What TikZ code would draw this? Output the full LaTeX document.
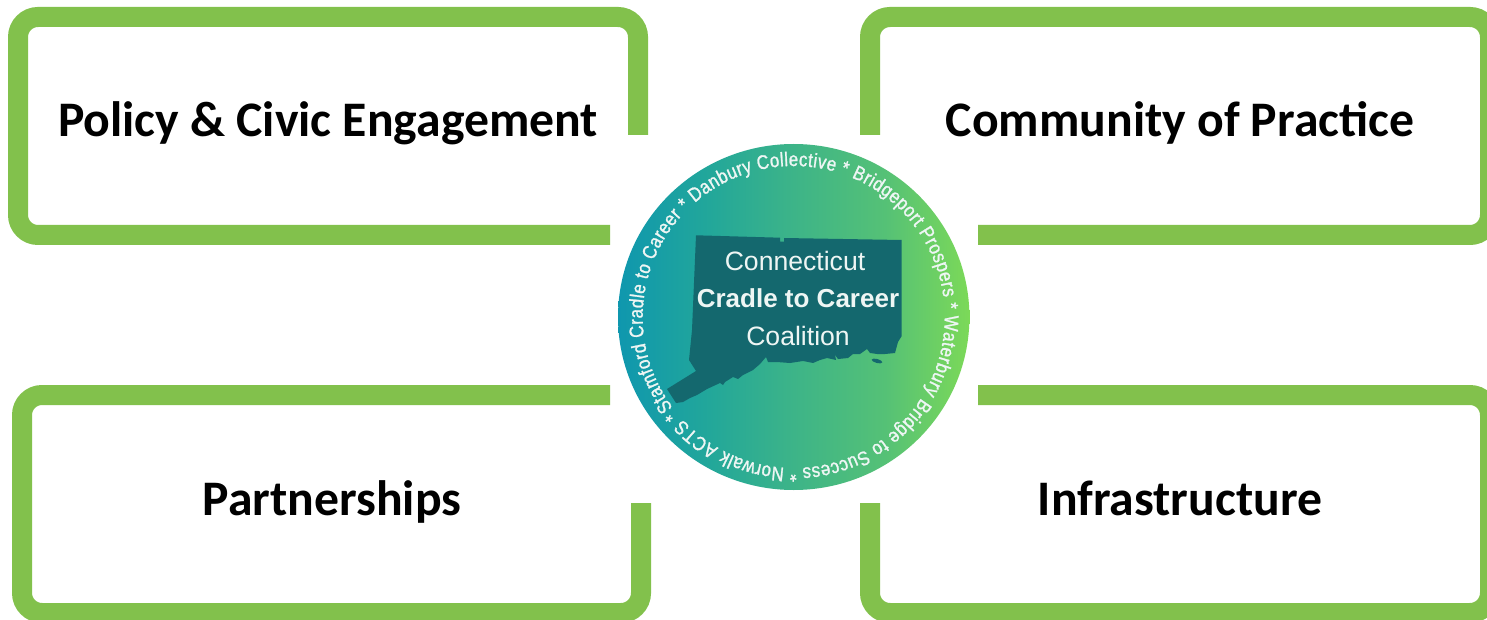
\documentclass[tikz,border=0pt]{standalone}
\usepackage{fontspec}
\usetikzlibrary{decorations.text}
\setmainfont{Carlito}
\newfontfamily\ringfont{Liberation Sans}
\newfontfamily\ringtext[FakeStretch=0.85,FakeBold=1.2]{Liberation Sans}
\definecolor{framegreen}{HTML}{82C14C}
\definecolor{maptl}{HTML}{14686E}
\definecolor{mapink}{HTML}{EEF6F4}
\definecolor{c1}{HTML}{0F97AE}
\definecolor{c2}{HTML}{22A79A}
\definecolor{c3}{HTML}{3DB488}
\definecolor{c4}{HTML}{55C176}
\definecolor{c5}{HTML}{7CD958}
\pgfdeclarehorizontalshading{discshade}{100bp}{
 color(0bp)=(c1); color(25bp)=(c1); color(38bp)=(c2); color(50bp)=(c3); color(63bp)=(c4); color(75bp)=(c5); color(100bp)=(c5)}
\tikzset{
 frame/.style={draw=framegreen,line width=20pt,rounded corners=20pt,line cap=butt},
 title/.style={font=\fontsize{49.7}{50}\selectfont\bfseries,anchor=base,text=black,inner sep=0pt},
 maplabel/.style={font=\ringfont\fontsize{26.6}{27}\selectfont,anchor=base,text=mapink,inner sep=0pt},
}
\begin{document}
\begin{tikzpicture}[x=1pt,y=-1pt]
\useasboundingbox (0,0) rectangle (1487,620);
\clip (0,0) rectangle (1487,620);
\fill[white] (0,0) rectangle (1487,620);
% frames
\draw[frame] (638,135) -- (638,17) -- (18,17) -- (18,235) -- (610,235);
\draw[frame] (870,135) -- (870,17) -- (1490,17) -- (1490,235) -- (978,235);
\draw[frame] (610,395) -- (22,395) -- (22,613) -- (641,613) -- (641,503);
\draw[frame] (978,395) -- (1490,395) -- (1490,613) -- (870,613) -- (870,503);
% titles
\node[title] (policy) at (328,136.5) {Policy \& Civic Engagement};
\node[title] (community) at (1180,136.5) {Community of Practice};
\node[title] (partner) at (332,515.5) {Partnerships};
\node[title] (infra) at (1180,515.5) {Infrastructure};
% disc
\coordinate (disc) at (793.7,317);
\shade[shading=discshade] (disc) ellipse[x radius=175.7pt,y radius=173pt];
% state
\fill[maptl] (696,235.3) -- (780,237.7) -- (780,241.7) -- (784,241.7) -- (784,238) -- (901.7,240)
 -- (901.7,336) -- (898,342) -- (895,353) -- (885,354) -- (877,354) -- (870,353) -- (867,349)
 -- (860,354) -- (853,354) -- (848,358) -- (838,359) -- (833,352) -- (830,347) -- (835,355)
 -- (836,360) -- (827,358) -- (820,360) -- (813,363) -- (803,361) -- (790,363) -- (777,362)
 -- (768,362) -- (766,357) -- (760,364) -- (753,370) -- (743,375) -- (738,379) -- (733,377)
 -- (725,382) -- (723,385) -- (720,383) -- (707,389) -- (697,395) -- (690,398) -- (683,402)
 -- (676,403) -- (667,389) -- (696,371) -- (689,360) -- (692,330) -- cycle;
\fill[maptl,rotate around={-15:(877,361)}] (877,361) ellipse[x radius=5.5pt,y radius=2pt];
% map text
\node[maplabel] (l1) at (795,270) {Connecticut};
\node[maplabel,font=\ringfont\bfseries\fontsize{26}{26}\selectfont] (l2) at (798,307) {Cradle to Career};
\node[maplabel] (l3) at (798,345) {Coalition};
% ring text
\path[decorate,decoration={text along path,text align={fit to path},
 text={|\ringtext\fontsize{19.8}{20}\selectfont\color{mapink}|Stamford Cradle to Career * Danbury Collective * Bridgeport Prospers * Waterbury Bridge to Success * Norwalk ACTS * }}]
 (disc) ++(217:151pt) arc[start angle=217,end angle=-142,radius=151pt];
\end{tikzpicture}
\end{document}
